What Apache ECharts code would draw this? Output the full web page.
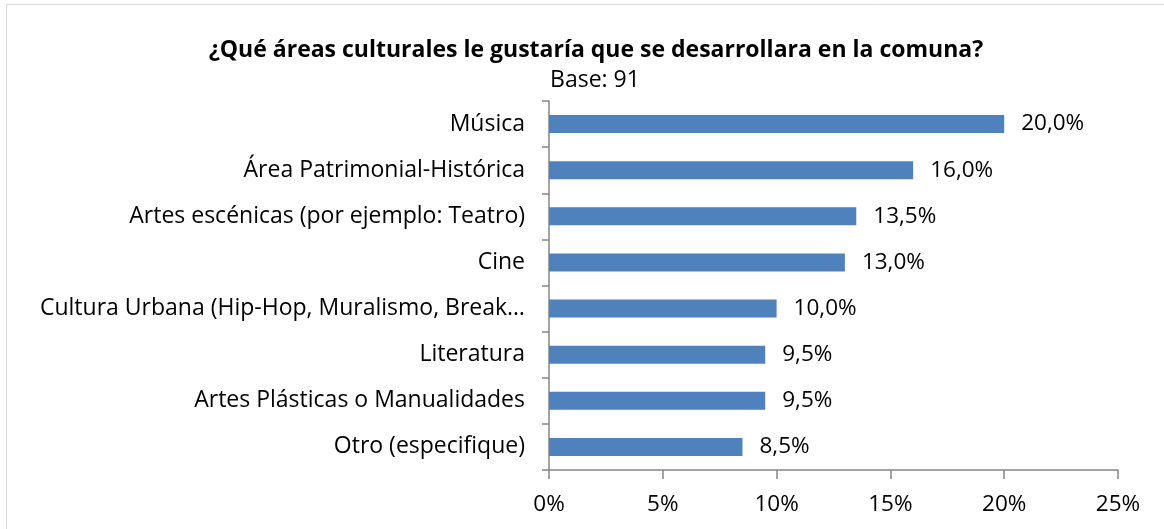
<!DOCTYPE html>
<html>
<head>
<meta charset="utf-8">
<script src="https://cdn.jsdelivr.net/npm/echarts@6/dist/echarts.min.js"></script>
<style>
  html, body { margin: 0; padding: 0; background: #fff; }
  #chart { width: 1164px; height: 529px; }
</style>
</head>
<body>
<div id="chart"></div>
<script>
const categories = [
  "Música",
  "Área Patrimonial-Histórica",
  "Artes escénicas (por ejemplo: Teatro)",
  "Cine",
  "Cultura Urbana (Hip-Hop, Muralismo, Break…",
  "Literatura",
  "Artes Plásticas o Manualidades",
  "Otro (especifique)"
];
const values = [20.0, 16.0, 13.5, 13.0, 10.0, 9.5, 9.5, 8.5];
const xTicks = [0, 5, 10, 15, 20, 25];

const font = "Open Sans";
const axisColor = "#868686";

const chart = echarts.init(document.getElementById("chart"));

const option = {
  backgroundColor: "#fff",
  animation: false,
  title: [
    {
      text: "¿Qué áreas culturales le gustaría que se desarrollara en la comuna?",
      left: 591,
      top: 34,
      textAlign: "center",
      textStyle: { fontFamily: font, fontWeight: "bold", fontSize: 23, color: "#000" }
    },
    {
      text: "Base: 91",
      left: 590,
      top: 64,
      textAlign: "center",
      textStyle: { fontFamily: font, fontWeight: "normal", fontSize: 23, color: "#000" }
    }
  ],
  graphic: [
    {
      type: "rect",
      shape: { x: 6.5, y: 4.5, width: 1400, height: 800 },
      style: { fill: "none", stroke: "#d9d9d9", lineWidth: 1 },
      silent: true
    }
  ],
  grid: { left: 549, right: 46, top: 101, bottom: 59, containLabel: false },
  xAxis: {
    type: "value",
    min: xTicks[0],
    max: xTicks[xTicks.length - 1],
    interval: 5,
    axisLine: { show: true, lineStyle: { color: axisColor, width: 1.5 } },
    axisTick: { show: true, length: 9, lineStyle: { color: axisColor, width: 1.5 } },
    splitLine: { show: false },
    axisLabel: {
      margin: 23,
      fontFamily: font,
      fontSize: 22.5,
      color: "#000",
      formatter: v => v + "%"
    }
  },
  yAxis: {
    type: "category",
    data: categories,
    inverse: true,
    axisLine: { show: true, lineStyle: { color: axisColor, width: 1.5 } },
    axisTick: { show: true, length: 7, lineStyle: { color: axisColor, width: 1.5 } },
    axisLabel: {
      margin: 24,
      fontFamily: font,
      fontSize: 23,
      color: "#000"
    }
  },
  series: [
    {
      type: "bar",
      data: values,
      barWidth: 18,
      itemStyle: { color: "#4f81bd" },
      label: {
        show: true,
        position: "right",
        distance: 17,
        fontFamily: font,
        fontSize: 22.5,
        color: "#000",
        formatter: p => p.value.toFixed(1).replace(".", ",") + "%"
      }
    }
  ]
};

chart.setOption(option);
</script>
</body>
</html>
